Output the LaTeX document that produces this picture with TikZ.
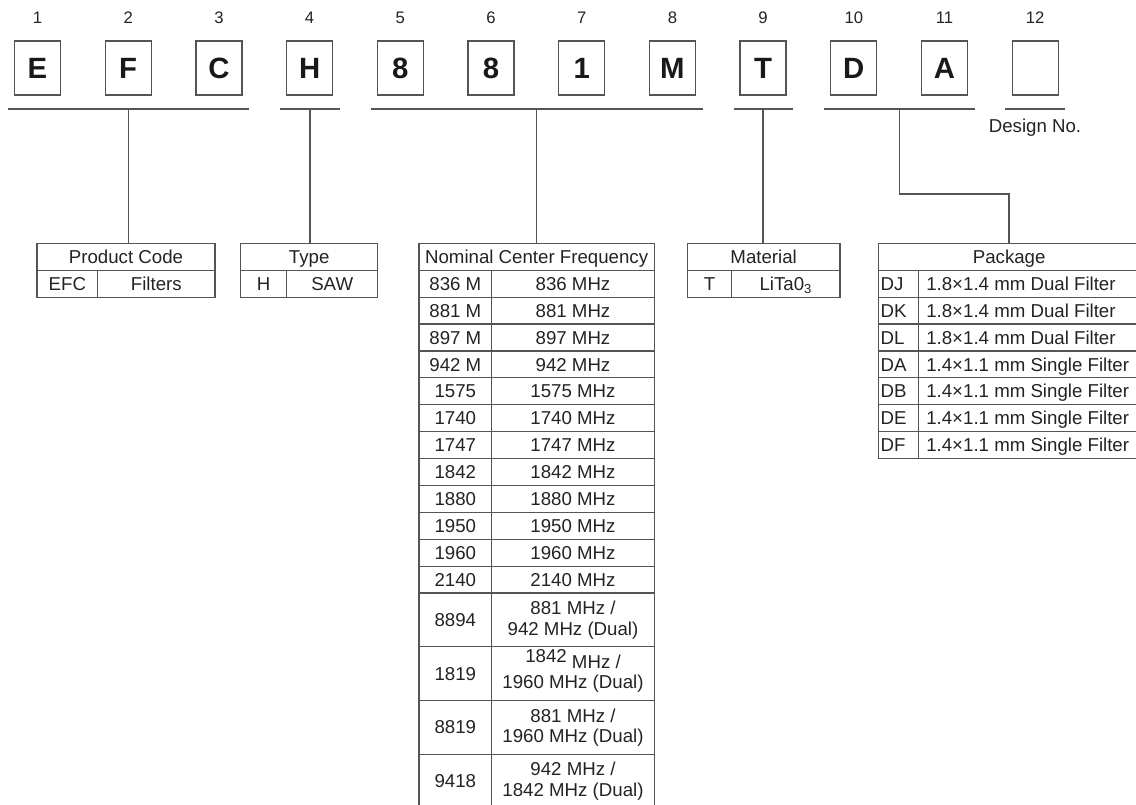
\documentclass[tikz,border=0pt]{standalone}
\usepackage{fontspec}
\setmainfont{Liberation Sans}
\usetikzlibrary{positioning}
\definecolor{linegray}{RGB}{85,85,85}
\definecolor{inkgray}{RGB}{35,35,35}

\begin{document}
\begin{tikzpicture}[
    x=0.75pt, y=-0.75pt,
    letter/.style={draw=linegray, line width=1pt, minimum width=34.5pt, minimum height=40.5pt, inner sep=0pt, text=black!90, font=\bfseries\fontsize{22}{22}\selectfont},
    posnum/.style={font=\fontsize{12.5}{12.5}\selectfont, text=inkgray},
    uline/.style={draw=linegray, line width=1pt},
    cell/.style={draw=linegray, line width=0.9pt, outer sep=0pt, inner ysep=0pt, minimum height=20.175pt, text height=10pt, text depth=0pt, text=inkgray, font=\fontsize{14}{14}\selectfont},
    dcell/.style={draw=linegray, line width=0.9pt, outer sep=0pt, inner ysep=0pt, minimum height=40.35pt, align=center, text=inkgray, font=\fontsize{14}{15.5}\selectfont},
  ]
  \useasboundingbox (0,0) rectangle (1136,804);

  \foreach \ch [count=\i] in {E,F,C,H,8,8,1,M,T,D,A,{}} {
    \node[posnum] (n\i) at ({37.5+90.7*(\i-1)},18) {\i};
    \node[letter] (b\i) at ({37.5+90.7*(\i-1)},68) {\ch};
  }

  \coordinate (m1) at (128.3,109);
  \coordinate (m2) at (310,109);
  \coordinate (m3) at (536.5,109);
  \coordinate (m4) at (763,109);
  \coordinate (m5) at (899.5,109);
  \coordinate (m6) at (1035,109);
  \draw[uline] (7.9,109) -- (249,109);
  \draw[uline] (280,109) -- (340,109);
  \draw[uline] (371,109) -- (702.5,109);
  \draw[uline] (733.5,109) -- (793,109);
  \draw[uline] (824,109) -- (975,109);
  \draw[uline] (1005,109) -- (1065,109);
  \node[font=\fontsize{14}{14}\selectfont, text=inkgray] (dn) at (1035,128) {Design No.};

  \node[cell, minimum width=133.5pt] (pc) at (126,256.75) {Product Code};
  \node[cell, minimum width=45.5pt, below right=0pt of pc.south west] (pcA) {EFC};
  \node[cell, minimum width=88pt, right=0pt of pcA] (pcB) {Filters};

  \node[cell, minimum width=102.75pt] (ty) at (309.2,256.75) {Type};
  \node[cell, minimum width=34.5pt, below right=0pt of ty.south west] (tyA) {H};
  \node[cell, minimum width=68.25pt, right=0pt of tyA] (tyB) {SAW};

  \node[cell, minimum width=176.5pt] (ncf) at (536.65,256.75) {Nominal Center Frequency};
  \foreach \code/\freq [count=\i] in {836 M/836 MHz, 881 M/881 MHz, 897 M/897 MHz, 942 M/942 MHz,
      1575/1575 MHz, 1740/1740 MHz, 1747/1747 MHz, 1842/1842 MHz, 1880/1880 MHz,
      1950/1950 MHz, 1960/1960 MHz, 2140/2140 MHz} {
    \node[cell, minimum width=54.5pt] (nc\i) at (455.35,{256.75+26.9*\i}) {\code};
    \node[cell, minimum width=122pt] (nq\i) at (573,{256.75+26.9*\i}) {\freq};
  }
  \node[dcell, minimum width=54.5pt] (nc13) at (455.35,619.9) {8894};
  \node[dcell, minimum width=122pt] (nq13) at (573,619.9) {881 MHz /\\942 MHz (Dual)};
  \node[dcell, minimum width=54.5pt] (nc14) at (455.35,673.7) {1819};
  \node[dcell, minimum width=122pt] (nq14) at (573,673.7) {\smash{\raisebox{4.5pt}{1842}} MHz /\\1960 MHz (Dual)};
  \node[dcell, minimum width=54.5pt] (nc15) at (455.35,727.5) {8819};
  \node[dcell, minimum width=122pt] (nq15) at (573,727.5) {881 MHz /\\1960 MHz (Dual)};
  \node[dcell, minimum width=54.5pt] (nc16) at (455.35,781.3) {9418};
  \node[dcell, minimum width=122pt] (nq16) at (573,781.3) {942 MHz /\\1842 MHz (Dual)};

  \node[cell, minimum width=114.5pt] (mt) at (763.65,256.75) {Material};
  \node[cell, minimum width=33.3pt, below right=0pt of mt.south west] (mtA) {T};
  \node[cell, minimum width=81.2pt, right=0pt of mtA] (mtB) {LiTa0\textsubscript{3}};

  \node[cell, minimum width=196.3pt] (pk) at (1009.15,256.75) {Package};
  \foreach \code/\desc [count=\i] in {DJ/1.8×1.4 mm Dual Filter, DK/1.8×1.4 mm Dual Filter,
      DL/1.8×1.4 mm Dual Filter, DA/1.4×1.1 mm Single Filter, DB/1.4×1.1 mm Single Filter,
      DE/1.4×1.1 mm Single Filter, DF/1.4×1.1 mm Single Filter} {
    \node[cell, inner xsep=1.8pt] (pkc\i) at (898.3,{256.75+26.9*\i}) {\makebox[26.4pt][l]{\code}};
    \node[cell, inner xsep=6pt] (pkd\i) at (1029.15,{256.75+26.9*\i}) {\makebox[154.3pt][l]{\desc}};
  }

  \coordinate (bend) at (1009.15,194);
  \draw[uline] (m1) -- (m1 |- pc.north);
  \draw[uline] (m2) -- (m2 |- ty.north);
  \draw[uline] (m3) -- (m3 |- ncf.north);
  \draw[uline] (m4) -- (m4 |- mt.north);
  \draw[uline] (m5) |- (bend) -- (pk.north);
\end{tikzpicture}
\end{document}
